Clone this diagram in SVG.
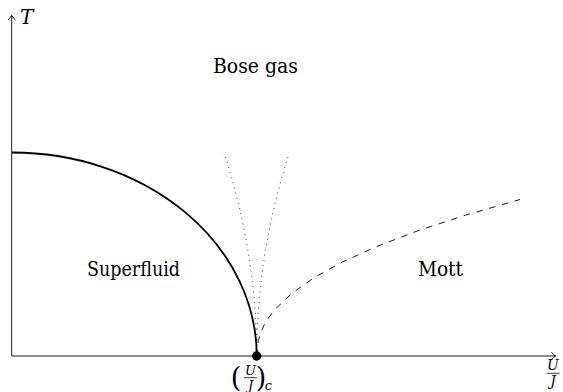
<svg xmlns="http://www.w3.org/2000/svg" width="563" height="392" viewBox="0 0 563 392">
<style>
text{font-family:'DejaVu Serif','Liberation Serif',serif;fill:#000}
.it{font-style:italic}
.axis{stroke:#000;stroke-width:0.9;fill:none}
.head{stroke:#000;stroke-width:0.9;fill:none;stroke-linecap:round;stroke-linejoin:round}
.solid{stroke:#000;stroke-width:1.8;fill:none}
.dashed{stroke:#000;stroke-width:0.9;fill:none;stroke-dasharray:6.6 6.6}
.dotted{stroke:#000;stroke-width:0.9;fill:none;stroke-dasharray:0.9 4.4}
</style>
<rect width="563" height="392" fill="#fff"/>
<g id="axes">
<line class="axis" x1="11.7" y1="356" x2="11.7" y2="15.5"/>
<path class="head" d="M8.3,19.6 Q10.8,17.5 11.7,15.3 Q12.6,17.5 15.1,19.6"/>
<line class="axis" x1="11.7" y1="356" x2="555.5" y2="356"/>
<path class="head" d="M551.5,352.6 Q553.6,355.1 555.8,356 Q553.6,356.9 551.5,359.4"/>
<text class="it" x="20" y="24" font-size="20">T</text>
<text class="it" x="553" y="370" font-size="14" text-anchor="middle">U</text>
<line x1="546.5" y1="373.3" x2="559.5" y2="373.3" stroke="#000" stroke-width="0.8"/>
<text class="it" x="553" y="386" font-size="14" text-anchor="middle">J</text>
</g>
<g id="connectors">
<path id="superfluid-boundary" class="solid" d="M12,152.5 A244.7,203.5 0 0 1 256.7,356"/>
<path id="crossover-left" class="dotted" d="M256.7,356 Q256.7,254.3 224,152.5"/>
<path id="crossover-right" class="dotted" d="M256.7,356 Q256.7,254.3 289.4,152.5"/>
<path id="mott-boundary" class="dashed" d="M256.7,356 L257.1,348.2 L258.4,340.35 L260.75,332.5 L264.3,324.7 L269.2,316.9 L275.3,309.05 L291.8,293.4 L314,277.75 L342.3,262.1 L376.8,246.45 L417.8,230.8 L465.5,215.15 L520,199.5" stroke-linejoin="round"/>
</g>
<g id="bose-gas">
<text x="255.5" y="73" font-size="20" text-anchor="middle" textLength="85" lengthAdjust="spacingAndGlyphs">Bose gas</text>
</g>
<g id="superfluid">
<text x="133.5" y="276" font-size="20" text-anchor="middle" textLength="93" lengthAdjust="spacingAndGlyphs">Superfluid</text>
</g>
<g id="mott">
<text x="440.5" y="276" font-size="20" text-anchor="middle" textLength="45" lengthAdjust="spacingAndGlyphs">Mott</text>
</g>
<g id="critical-point">
<circle cx="256.7" cy="356" r="4.7" fill="#000"/>
<text x="236" y="387" font-size="27" text-anchor="middle">(</text>
<text class="it" x="250.5" y="375" font-size="13" text-anchor="middle">U</text>
<line x1="244" y1="377.7" x2="257" y2="377.7" stroke="#000" stroke-width="0.8"/>
<text class="it" x="250.5" y="389.5" font-size="13" text-anchor="middle">J</text>
<text x="261" y="387" font-size="27" text-anchor="middle">)</text>
<text class="it" x="268.5" y="389.5" font-size="13" text-anchor="middle">c</text>
</g>
</svg>
